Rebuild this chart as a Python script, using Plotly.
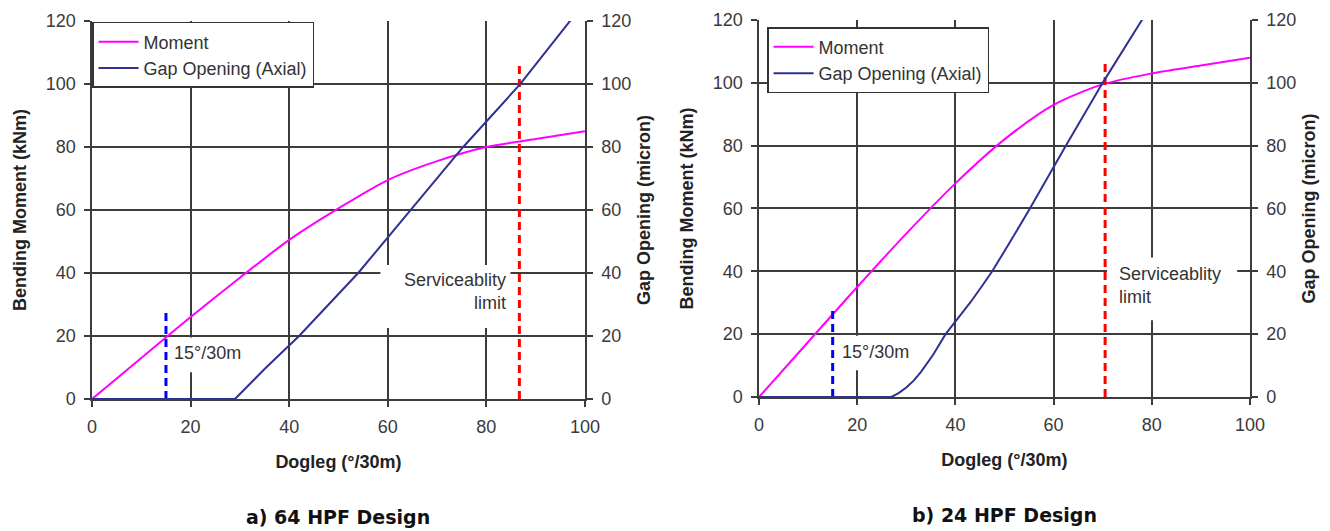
import plotly.graph_objects as go

# ---------------- data ----------------
# a) 64 HPF Design
dogleg_a_moment = [0, 10, 20, 30, 40, 50, 60, 70, 80, 90, 100]
moment_a = [0, 13, 26, 38.5, 50.5, 60.5, 69.5, 75.5, 80, 82.5, 85]
dogleg_a_gap = [0, 29, 35, 42, 54, 64.6, 75.3, 86.9, 96.9, 100]
gap_a = [0, 0, 9.5, 20, 40, 60, 80, 100, 120, 126]
dogleg_limit_a = 86.7
limit_top_a = 106.7

# b) 24 HPF Design
dogleg_b_moment = [0, 10, 20, 30, 40, 50, 60, 70, 80, 90, 100]
moment_b = [0, 17.5, 35, 52, 68, 82, 93, 99.5, 103, 105.5, 108]
dogleg_b_gap = [0, 27, 28.5, 30, 31.5, 33, 35.5, 38, 40.5, 43, 45.5, 47.5, 51, 55, 62.5, 70, 78, 82]
gap_b = [0, 0, 1.3, 3, 5.2, 8, 13.5, 20, 25, 30, 35.5, 40, 49, 59.5, 80, 100, 120, 130]
dogleg_limit_b = 70.5
limit_top_b = 106

dogleg_15 = 15
marker_top_15 = 28.3

x_ticks = [0, 20, 40, 60, 80, 100]
y_ticks = [0, 20, 40, 60, 80, 100, 120]

MAG = "#ff00ff"
NAVY = "#2e3192"
GRID = "#3c3c3c"
TICKFONT = dict(family="Liberation Sans, Arial", size=18, color="#3a3a3a")
TITLEFONT = dict(family="Liberation Sans, Arial", size=18, color="#222222")

fig = go.Figure()

# ---- left chart ----
fig.add_trace(go.Scatter(x=dogleg_a_moment, y=moment_a, mode="lines", name="Moment",
                         line=dict(color=MAG, width=2, shape="spline", smoothing=0.8),
                         xaxis="x", yaxis="y", legend="legend"))
fig.add_trace(go.Scatter(x=dogleg_a_gap, y=gap_a, mode="lines", name="Gap Opening (Axial)",
                         line=dict(color=NAVY, width=2), xaxis="x", yaxis="y2", legend="legend"))
fig.add_trace(go.Scatter(x=[dogleg_15, dogleg_15], y=[0, marker_top_15], mode="lines", showlegend=False,
                         line=dict(color="#0000ff", width=3, dash="8px,5px"), xaxis="x", yaxis="y"))
fig.add_trace(go.Scatter(x=[dogleg_limit_a, dogleg_limit_a], y=[0, limit_top_a], mode="lines", showlegend=False,
                         line=dict(color="#ff0000", width=3, dash="8px,5px"), xaxis="x", yaxis="y"))

# ---- right chart ----
fig.add_trace(go.Scatter(x=dogleg_b_moment, y=moment_b, mode="lines", name="Moment",
                         line=dict(color=MAG, width=2, shape="spline", smoothing=0.8),
                         xaxis="x2", yaxis="y3", legend="legend2"))
fig.add_trace(go.Scatter(x=dogleg_b_gap, y=gap_b, mode="lines", name="Gap Opening (Axial)",
                         line=dict(color=NAVY, width=2),
                         xaxis="x2", yaxis="y4", legend="legend2"))
fig.add_trace(go.Scatter(x=[dogleg_15, dogleg_15], y=[0, marker_top_15], mode="lines", showlegend=False,
                         line=dict(color="#0000ff", width=3, dash="8px,5px"), xaxis="x2", yaxis="y3"))
fig.add_trace(go.Scatter(x=[dogleg_limit_b, dogleg_limit_b], y=[0, limit_top_b], mode="lines", showlegend=False,
                         line=dict(color="#ff0000", width=3, dash="8px,5px"), xaxis="x2", yaxis="y3"))

def xax(domain, anchor):
    return dict(domain=domain, anchor=anchor, range=[0, 100], tickvals=x_ticks,
                showgrid=True, gridcolor=GRID, gridwidth=1.5, zeroline=False,
                showline=True, linecolor=GRID, linewidth=1.5, ticks="outside", ticklen=6,
                tickwidth=1.5, tickcolor=GRID, tickfont=TICKFONT, automargin=False,
                ticklabelstandoff=5,
                title=dict(text="<b>Dogleg (°/30m)</b>", font=TITLEFONT, standoff=19))

def yax(domain, anchor, title):
    return dict(domain=domain, anchor=anchor, range=[0, 120], tickvals=y_ticks,
                showgrid=True, gridcolor=GRID, gridwidth=1.5, zeroline=False,
                showline=True, linecolor=GRID, linewidth=1.5, ticks="outside", ticklen=6,
                tickwidth=1.5, tickcolor=GRID, tickfont=TICKFONT, automargin=False,
                ticklabelstandoff=5,
                title=dict(text="<b>" + title + "</b>", font=TITLEFONT, standoff=14))

def y2ax(over, anchor, title):
    return dict(overlaying=over, anchor=anchor, side="right", range=[0, 120], tickvals=y_ticks,
                showgrid=False, zeroline=False, showline=True, linecolor=GRID, linewidth=1.5,
                ticks="outside", ticklen=6, tickwidth=1.5, tickcolor=GRID, tickfont=TICKFONT,
                automargin=False, ticklabelstandoff=5,
                title=dict(text="<b>" + title + "</b>", font=TITLEFONT, standoff=7))

LEG = dict(bgcolor="white", bordercolor="#333333", borderwidth=1.5,
           font=dict(family="Liberation Sans, Arial", size=18, color="#333333"),
           xanchor="left", yanchor="top", tracegroupgap=0, itemwidth=40)

fig.update_layout(
    width=1330, height=531, margin=dict(l=0, r=0, t=0, b=0),
    paper_bgcolor="white", plot_bgcolor="white",
    xaxis=xax([0.0692, 0.4398], "y"),
    yaxis=yax([0.2486, 0.9605], "x", "Bending Moment (kNm)"),
    yaxis2=y2ax("y", "x", "Gap Opening (micron)"),
    xaxis2=xax([0.5707, 0.9398], "y3"),
    yaxis3=yax([0.2524, 0.9623], "x2", "Bending Moment (kNm)"),
    yaxis4=y2ax("y3", "x2", "Gap Opening (micron)"),
    legend=dict(LEG, x=0.0692, y=0.9586),
    legend2=dict(LEG, x=0.5767, y=0.949),
    showlegend=True,
)

# boxes behind labels that hide the gridlines
for xr, yr, ax, ay in [((16, 31), (8.5, 19.5), "x", "y"), ((58.5, 84.9), (22.5, 42.5), "x", "y"),
                       ((16, 31), (8.5, 19.5), "x2", "y3"), ((70.9, 97.4), (24.4, 44.4), "x2", "y3")]:
    fig.add_shape(type="rect", xref=ax, yref=ay, x0=xr[0], x1=xr[1], y0=yr[0], y1=yr[1],
                  fillcolor="white", line=dict(width=0), layer="between")

ANN = dict(family="Liberation Sans, Arial", size=18, color="#333333")
fig.add_annotation(x=16.2, y=14.6, xref="x", yref="y", text="15°/30m", showarrow=False,
                   xanchor="left", yanchor="middle", font=ANN)
fig.add_annotation(x=84.3, y=34.1, xref="x", yref="y", text="Serviceablity<br>limit", showarrow=False,
                   xanchor="right", yanchor="middle", align="right", font=ANN)
fig.add_annotation(x=16.5, y=14.3, xref="x2", yref="y3", text="15°/30m", showarrow=False,
                   xanchor="left", yanchor="middle", font=ANN)
fig.add_annotation(x=72.9, y=35.6, xref="x2", yref="y3", text="Serviceablity<br>limit", showarrow=False,
                   xanchor="left", yanchor="middle", align="left", font=ANN)

CAP = dict(family="DejaVu Sans", size=19, color="#111111")
fig.add_annotation(x=0.254, y=1 - 517 / 531, xref="paper", yref="paper", text="<b>a) 64 HPF Design</b>",
                   showarrow=False, xanchor="center", yanchor="middle", font=CAP)
fig.add_annotation(x=0.755, y=1 - 515 / 531, xref="paper", yref="paper", text="<b>b) 24 HPF Design</b>",
                   showarrow=False, xanchor="center", yanchor="middle", font=CAP)

fig.write_html("out.html")
